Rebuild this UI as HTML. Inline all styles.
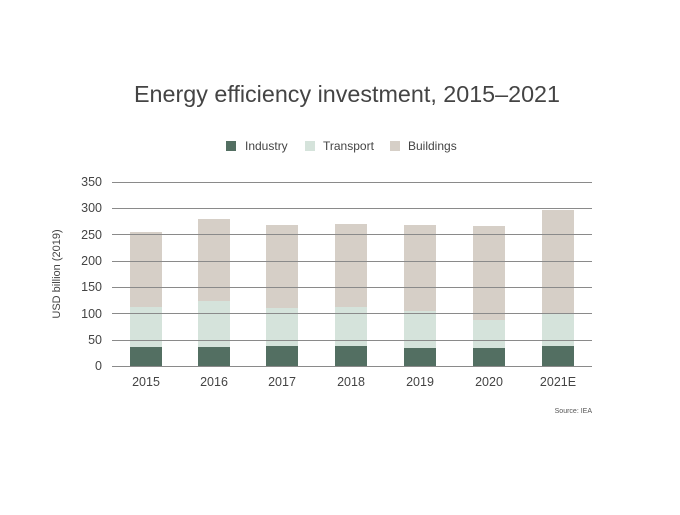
<!DOCTYPE html>
<html><head><style>
body{margin:0;background:#fff;}
text{font-family:"Liberation Sans",sans-serif;}
</style></head><body>
<svg width="680" height="510" xmlns="http://www.w3.org/2000/svg">
<rect width="680" height="510" fill="#fff"/>
<text x="347" y="102" text-anchor="middle" font-size="23.3" fill="#444" textLength="426" lengthAdjust="spacingAndGlyphs">Energy efficiency investment, 2015–2021</text>
<rect x="226" y="141" width="10" height="10" fill="#536f62"/>
<text x="245" y="150" font-size="12" fill="#444">Industry</text>
<rect x="305" y="141" width="10" height="10" fill="#d5e3db"/>
<text x="323" y="150" font-size="12" fill="#444">Transport</text>
<rect x="390" y="141" width="10" height="10" fill="#d6cfc7"/>
<text x="408" y="150" font-size="12" fill="#444">Buildings</text>
<text transform="translate(60,274) rotate(-90)" text-anchor="middle" font-size="11" fill="#444">USD billion (2019)</text>
<g font-size="12.5" fill="#444" text-anchor="end">
<text x="102" y="370">0</text><text x="102" y="344">50</text><text x="102" y="318">100</text><text x="102" y="291">150</text><text x="102" y="265">200</text><text x="102" y="239">250</text><text x="102" y="212">300</text><text x="102" y="186">350</text>
</g>
<g id="bars">
<rect x="130" y="232" width="32" height="75" fill="#d6cfc7"/><rect x="130" y="307" width="32" height="40" fill="#d5e3db"/><rect x="130" y="347" width="32" height="19" fill="#536f62"/>
<rect x="198" y="219" width="32" height="82" fill="#d6cfc7"/><rect x="198" y="301" width="32" height="46" fill="#d5e3db"/><rect x="198" y="347" width="32" height="19" fill="#536f62"/>
<rect x="266" y="225" width="32" height="83" fill="#d6cfc7"/><rect x="266" y="308" width="32" height="38" fill="#d5e3db"/><rect x="266" y="346" width="32" height="20" fill="#536f62"/>
<rect x="335" y="224" width="32" height="83" fill="#d6cfc7"/><rect x="335" y="307" width="32" height="39" fill="#d5e3db"/><rect x="335" y="346" width="32" height="20" fill="#536f62"/>
<rect x="404" y="225" width="32" height="86" fill="#d6cfc7"/><rect x="404" y="311" width="32" height="37" fill="#d5e3db"/><rect x="404" y="348" width="32" height="18" fill="#536f62"/>
<rect x="473" y="226" width="32" height="94" fill="#d6cfc7"/><rect x="473" y="320" width="32" height="28" fill="#d5e3db"/><rect x="473" y="348" width="32" height="18" fill="#536f62"/>
<rect x="542" y="210" width="32" height="104" fill="#d6cfc7"/><rect x="542" y="314" width="32" height="32" fill="#d5e3db"/><rect x="542" y="346" width="32" height="20" fill="#536f62"/>
</g>
<g stroke="#8a8a8a" stroke-width="1">
<line x1="112" x2="592" y1="366.5" y2="366.5"/><line x1="112" x2="592" y1="340.5" y2="340.5"/><line x1="112" x2="592" y1="313.5" y2="313.5"/><line x1="112" x2="592" y1="287.5" y2="287.5"/><line x1="112" x2="592" y1="261.5" y2="261.5"/><line x1="112" x2="592" y1="234.5" y2="234.5"/><line x1="112" x2="592" y1="208.5" y2="208.5"/><line x1="112" x2="592" y1="182.5" y2="182.5"/>
</g>
<g font-size="12.5" fill="#444" text-anchor="middle">
<text x="146" y="386">2015</text><text x="214" y="386">2016</text><text x="282" y="386">2017</text><text x="351" y="386">2018</text><text x="420" y="386">2019</text><text x="489" y="386">2020</text><text x="558" y="386">2021E</text>
</g>
<text x="592" y="413" text-anchor="end" font-size="7" fill="#555">Source: IEA</text>
</svg>
</body></html>
